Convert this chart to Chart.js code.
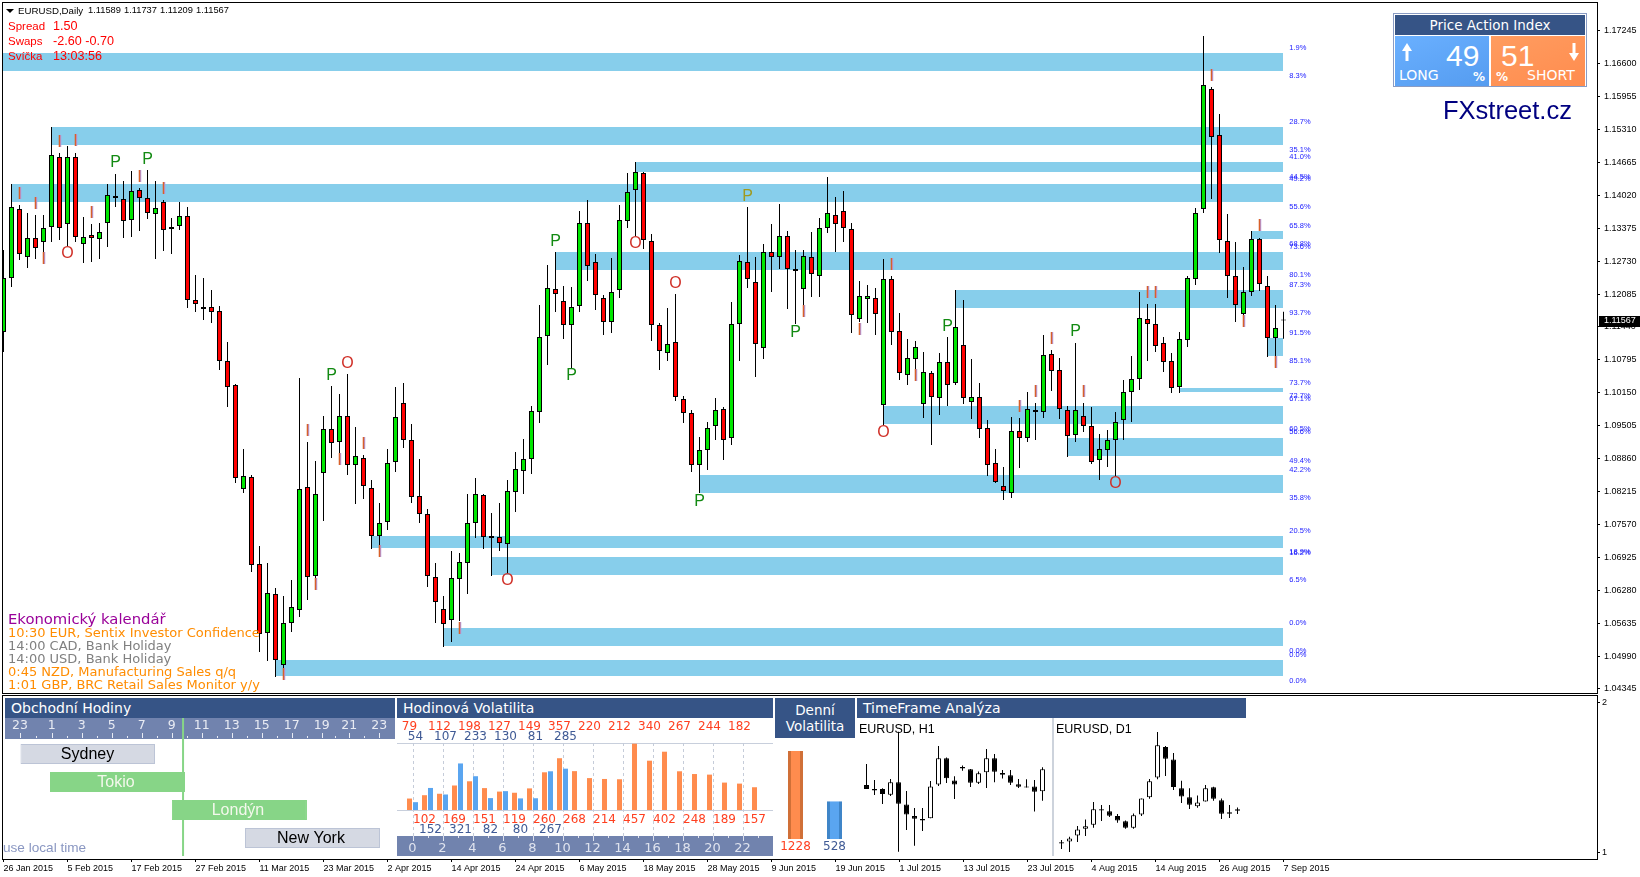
<!DOCTYPE html>
<html>
<head>
<meta charset="utf-8">
<title>EURUSD Daily</title>
<script src="https://cdn.jsdelivr.net/npm/chart.js@4"></script>
<style>
  body { margin: 0; background: #fff; width: 1640px; height: 877px; overflow: hidden; position: relative; }
  canvas { position: absolute; }
  .t { position: absolute; white-space: nowrap; line-height: 1; font-family: "Liberation Sans", sans-serif; }
  .v { font-family: "DejaVu Sans", sans-serif; }
  .box { position: absolute; }
  .head { position: absolute; background: #365486; color: #fff; font: 14px/20px "DejaVu Sans", sans-serif; height: 20px; top: 698px; padding-left: 6px; box-sizing: border-box; }
  .red { color: #f00; font-size: 11.5px; z-index: 5; }
  .redv { color: #f00; font-size: 12.6px; z-index: 5; left: 53px; }
  .ev { font-size: 13px; z-index: 5; left: 8px; }
</style>
</head>
<body>

<div class="box" style="left:2px;top:2px;width:1594px;height:690px;border:1px solid #000"></div>
<div class="box" style="left:2px;top:695px;width:1594px;height:163px;border:1px solid #000"></div>
<canvas id="lowerChart" width="1640" height="182" style="left:0;top:695px"></canvas>
<canvas id="mainChart" width="1640" height="694" style="left:0;top:0"></canvas>

<!-- top left info -->
<div class="t" style="left:6px;top:9px;width:0;height:0;border-left:4px solid transparent;border-right:4px solid transparent;border-top:4px solid #000;z-index:5"></div>
<div class="t" style="left:18px;top:6px;font-size:9.7px;z-index:5">EURUSD,Daily</div>
<div class="t" style="left:88px;top:6px;font-size:9.3px;z-index:5">1.11589</div>
<div class="t" style="left:124px;top:6px;font-size:9.3px;z-index:5">1.11737</div>
<div class="t" style="left:160px;top:6px;font-size:9.3px;z-index:5">1.11209</div>
<div class="t" style="left:196px;top:6px;font-size:9.3px;z-index:5">1.11567</div>
<div class="t red" style="left:8px;top:21px">Spread</div><div class="t redv" style="top:20px">1.50</div>
<div class="t red" style="left:8px;top:36px">Swaps</div><div class="t redv" style="top:35px">-2.60 -0.70</div>
<div class="t red" style="left:8px;top:51px">Svíčka</div><div class="t redv" style="top:50px">13:03:56</div>

<!-- calendar -->
<div class="t v" style="left:8px;top:612px;font-size:14.8px;color:#990099;z-index:5">Ekonomický kalendář</div>
<div class="t v ev" style="top:626px;color:#ff8c00">10:30 EUR, Sentix Investor Confidence</div>
<div class="t v ev" style="top:639px;color:#808080">14:00 CAD, Bank Holiday</div>
<div class="t v ev" style="top:652px;color:#808080">14:00 USD, Bank Holiday</div>
<div class="t v ev" style="top:665px;color:#ff8c00">0:45 NZD, Manufacturing Sales q/q</div>
<div class="t v ev" style="top:678px;color:#ff8c00">1:01 GBP, BRC Retail Sales Monitor y/y</div>

<!-- price action index -->
<div class="box" style="left:1393px;top:13px;width:192px;height:72px;border:1px solid #8a9cc4;z-index:4;background:#fff"></div>
<div class="box" style="left:1395px;top:15px;width:190px;height:20px;background:#365486;z-index:4"></div>
<div class="t v" style="left:1395px;top:19px;width:190px;text-align:center;color:#fff;font-size:13.5px;z-index:5">Price Action Index</div>
<div class="box" style="left:1395px;top:36px;width:94px;height:50px;background:linear-gradient(160deg,#6ab0ff,#559cf0);z-index:4"></div>
<div class="box" style="left:1491px;top:36px;width:94px;height:50px;background:linear-gradient(160deg,#ff9c60,#ff8c4e);z-index:4"></div>
<div class="t" style="left:1446px;top:41px;font-size:30px;color:#fff;z-index:5">49</div>
<div class="t" style="left:1501px;top:41px;font-size:30px;color:#fff;z-index:5">51</div>
<div class="t v" style="left:1399px;top:68px;font-size:14px;color:#fff;z-index:5">LONG</div>
<div class="t v" style="left:1527px;top:68px;font-size:14px;color:#fff;z-index:5">SHORT</div>
<div class="t v" style="left:1473px;top:71px;font-size:12px;font-weight:bold;color:#fff;z-index:5">%</div>
<div class="t v" style="left:1496px;top:71px;font-size:12px;font-weight:bold;color:#fff;z-index:5">%</div>
<svg style="position:absolute;left:1402px;top:43px;z-index:5" width="10" height="18"><path d="M5 0 L10 8 L6.5 8 L6.5 18 L3.5 18 L3.5 8 L0 8 Z" fill="#fff"/></svg>
<svg style="position:absolute;left:1569px;top:43px;z-index:5" width="10" height="18"><path d="M5 18 L10 10 L6.5 10 L6.5 0 L3.5 0 L3.5 10 L0 10 Z" fill="#fff"/></svg>
<div class="t" style="left:1443px;top:98px;font-size:25.5px;color:#000080;z-index:5">FXstreet.cz</div>

<!-- lower panels -->
<div class="head" style="left:5px;width:390px">Obchodní Hodiny</div>
<div class="box" style="left:5px;top:718px;width:390px;height:21px;background:#7183ae"></div>
<canvas id="sessionChart" width="390" height="138" style="left:5px;top:718px"></canvas>
<div class="t" style="left:3px;top:841px;font-size:13.6px;color:#8a97c2">use local time</div>

<div class="head" style="left:397px;width:376px">Hodinová Volatilita</div>
<div class="box" style="left:397px;top:743px;width:376px;height:1px;background:#c8cfdc"></div>
<div class="box" style="left:397px;top:810px;width:376px;height:1px;background:#c8cfdc"></div>
<div class="box" style="left:397px;top:836px;width:376px;height:20px;background:#7183ae"></div>
<canvas id="hourChart" width="376" height="136" style="left:397px;top:720px"></canvas>

<div class="head" style="left:775px;width:80px;height:40px;padding:4px 0 0;text-align:center;font-size:13.5px;line-height:16px">Denní<br>Volatilita</div>
<canvas id="dayChart" width="78" height="114" style="left:776px;top:745px"></canvas>

<div class="head" style="left:857px;width:389px">TimeFrame Analýza</div>
<div class="t" style="left:859px;top:723px;font-size:12.5px">EURUSD, H1</div>
<div class="t" style="left:1056px;top:723px;font-size:12.5px">EURUSD, D1</div>
<div class="box" style="left:1052px;top:718px;width:2px;height:138px;background:#cdd3dc"></div>

<script>
// Daily candles
const openPrices = [1.11342,1.12400,1.13753,1.12812,1.13184,1.13106,1.13400,1.14772,1.13459,1.14772,1.13067,1.13243,1.13165,1.13478,1.14008,1.13949,1.13537,1.14125,1.13968,1.13655,1.13890,1.13400,1.13419,1.13615,1.11969,1.11832,1.11832,1.11753,1.10773,1.10303,1.08265,1.08500,1.06795,1.05442,1.06207,1.04815,1.05638,1.05893,1.08304,1.06559,1.08578,1.09441,1.09186,1.09695,1.08735,1.08872,1.08284,1.07343,1.07618,1.08794,1.09950,1.09225,1.08127,1.07775,1.06540,1.05913,1.05697,1.06501,1.06814,1.07598,1.08147,1.07344,1.07324,1.07187,1.08206,1.08617,1.08853,1.09774,1.11263,1.12185,1.11949,1.11479,1.11851,1.13478,1.12714,1.12008,1.11538,1.12165,1.13517,1.14125,1.14458,1.13125,1.11479,1.10930,1.11146,1.10029,1.09754,1.08735,1.09029,1.09499,1.09833,1.09264,1.11499,1.12714,1.12322,1.11028,1.12910,1.12812,1.13223,1.12577,1.12185,1.12812,1.12439,1.13380,1.13635,1.13713,1.13361,1.11597,1.11989,1.12008,1.09911,1.12381,1.11361,1.10499,1.10813,1.09931,1.10538,1.10048,1.10754,1.10342,1.11087,1.09970,1.10068,1.09460,1.08774,1.08323,1.08186,1.09401,1.09264,1.09813,1.09774,1.10911,1.10597,1.09813,1.09323,1.09695,1.09499,1.08833,1.09029,1.09225,1.09617,1.10166,1.10421,1.11597,1.11499,1.11126,1.10773,1.10264,1.11185,1.12381,1.13753,1.16105,1.15203,1.13125,1.12439,1.11695,1.12126,1.13165,1.12243,1.11224,1.11589];
const highPrices = [1.12949,1.14243,1.13831,1.13674,1.13635,1.13635,1.15360,1.14850,1.14987,1.14850,1.13596,1.13459,1.13478,1.14243,1.14439,1.14301,1.14497,1.14164,1.14517,1.14301,1.13929,1.13576,1.13890,1.13792,1.12459,1.12400,1.12165,1.11851,1.11146,1.10323,1.09049,1.08539,1.07147,1.06814,1.06324,1.06167,1.06481,1.10440,1.09186,1.08813,1.09695,1.10283,1.10127,1.10519,1.09480,1.08931,1.08441,1.07990,1.09049,1.10264,1.10342,1.09539,1.08853,1.07873,1.06814,1.06167,1.07049,1.07010,1.08167,1.08480,1.08167,1.07794,1.07990,1.08441,1.08990,1.09245,1.09891,1.11871,1.12655,1.12910,1.12243,1.12224,1.13713,1.13929,1.12871,1.12067,1.12792,1.13831,1.14458,1.14674,1.14478,1.13263,1.11518,1.11812,1.12087,1.10087,1.09813,1.09284,1.09578,1.10048,1.09872,1.11930,1.12851,1.13792,1.12812,1.13067,1.13459,1.13851,1.13321,1.12949,1.12949,1.13302,1.13576,1.14380,1.13988,1.14105,1.13478,1.12341,1.12263,1.12204,1.12773,1.12439,1.11714,1.11205,1.11165,1.10950,1.10577,1.10930,1.11244,1.12165,1.11969,1.10813,1.10342,1.09617,1.09049,1.08696,1.09676,1.09656,1.10166,1.09950,1.11283,1.10989,1.10832,1.09891,1.11126,1.09950,1.09872,1.09343,1.09421,1.09774,1.10401,1.10871,1.12126,1.11891,1.11891,1.11244,1.10930,1.11342,1.12439,1.13772,1.17143,1.16144,1.15615,1.13655,1.13106,1.12616,1.13321,1.13184,1.12439,1.11871,1.11737];
const lowPrices = [1.10950,1.12224,1.12753,1.12596,1.12773,1.12910,1.13106,1.13145,1.13027,1.13106,1.12694,1.12714,1.12773,1.13008,1.13792,1.13184,1.13204,1.13321,1.13557,1.12773,1.12929,1.12871,1.13341,1.11812,1.11734,1.11577,1.11518,1.10597,1.09872,1.08382,1.08186,1.06638,1.05070,1.04893,1.04580,1.04756,1.05462,1.05756,1.06089,1.06520,1.07637,1.08872,1.08970,1.08539,1.07971,1.08069,1.07089,1.07147,1.07461,1.08598,1.09068,1.07990,1.07598,1.06344,1.05638,1.05168,1.05266,1.05677,1.06207,1.07304,1.07089,1.06559,1.07049,1.06618,1.07814,1.08167,1.08559,1.09558,1.10695,1.11734,1.11205,1.10636,1.11734,1.12341,1.11773,1.11283,1.11322,1.12008,1.13380,1.13223,1.12969,1.11165,1.10597,1.10773,1.09989,1.09558,1.08598,1.08186,1.08637,1.09225,1.08833,1.09127,1.10773,1.12204,1.10460,1.10813,1.12126,1.12577,1.11793,1.11499,1.11871,1.12028,1.12028,1.13282,1.12910,1.13106,1.11322,1.11538,1.11518,1.11283,1.09519,1.11087,1.10401,1.10303,1.10617,1.09656,1.09127,1.09715,1.09891,1.10303,1.09931,1.09637,1.09264,1.08519,1.08382,1.08049,1.08088,1.08676,1.09186,1.09225,1.09656,1.10185,1.09637,1.08892,1.09186,1.09382,1.08755,1.08441,1.08696,1.08519,1.09225,1.09578,1.10205,1.10773,1.10950,1.10558,1.10146,1.10146,1.11048,1.12263,1.13674,1.13949,1.12890,1.12008,1.11538,1.11675,1.12047,1.12145,1.10852,1.10871,1.11209];
const closePrices = [1.12400,1.13792,1.12871,1.13184,1.12988,1.13380,1.14811,1.13380,1.14772,1.13204,1.13204,1.13184,1.13302,1.14027,1.13968,1.13517,1.14105,1.13968,1.13674,1.13772,1.13341,1.13360,1.13615,1.11969,1.11891,1.11792,1.11734,1.10773,1.10264,1.08480,1.08519,1.06775,1.05423,1.06226,1.04913,1.05638,1.05952,1.08265,1.06540,1.08167,1.09441,1.09166,1.09695,1.08735,1.08911,1.08323,1.07343,1.07598,1.08774,1.09676,1.09225,1.08108,1.07775,1.06559,1.06050,1.05619,1.06520,1.06834,1.07598,1.08167,1.07324,1.07304,1.07206,1.08225,1.08657,1.08853,1.09793,1.11244,1.12204,1.12087,1.11479,1.11832,1.13478,1.12635,1.12067,1.11538,1.12126,1.13537,1.14086,1.14478,1.13145,1.11479,1.10969,1.11107,1.10068,1.09754,1.08735,1.09029,1.09460,1.09813,1.09225,1.11499,1.12733,1.12381,1.11107,1.12910,1.12812,1.13223,1.12577,1.12537,1.12831,1.12479,1.13380,1.13674,1.13459,1.13380,1.11675,1.12047,1.12047,1.11695,1.12381,1.11342,1.10538,1.10832,1.11048,1.10558,1.10068,1.10754,1.10303,1.11440,1.10048,1.10068,1.09441,1.08735,1.08402,1.08225,1.09401,1.09264,1.09833,1.09774,1.10891,1.10577,1.09833,1.09303,1.09813,1.09499,1.08794,1.09049,1.09225,1.09578,1.10166,1.10421,1.11616,1.11499,1.11067,1.10754,1.10244,1.11205,1.12400,1.13674,1.16183,1.15164,1.13145,1.12439,1.11871,1.12126,1.13165,1.12283,1.11224,1.11420,1.11567];

const priceTicks = [1.17245,1.16600,1.15955,1.15310,1.14665,1.14020,1.13375,1.12730,1.12085,1.11440,1.10795,1.10150,1.09505,1.08860,1.08215,1.07570,1.06925,1.06280,1.05635,1.04990,1.04345];
const dateLabels = ['26 Jan 2015','5 Feb 2015','17 Feb 2015','27 Feb 2015','11 Mar 2015','23 Mar 2015','2 Apr 2015','14 Apr 2015','24 Apr 2015','6 May 2015','18 May 2015','28 May 2015','9 Jun 2015','19 Jun 2015','1 Jul 2015','13 Jul 2015','23 Jul 2015','4 Aug 2015','14 Aug 2015','26 Aug 2015','7 Sep 2015'];
const lastPrice = 1.11567;

// Supply / demand zones
const zoneStart = [0,6,79,1,69,156,119,158,147,110,133,87,46,61,55,34];
const zoneHigh = [1.16810,1.15360,1.14674,1.14243,1.12910,1.13321,1.12165,1.11224,1.10244,1.09891,1.09264,1.08539,1.07343,1.06932,1.05540,1.04913];
const zoneLow = [1.16457,1.15007,1.14478,1.13890,1.12557,1.13165,1.11812,1.10871,1.10166,1.09539,1.08911,1.08186,1.07108,1.06579,1.05187,1.04599];
const zoneEnd = 159.94;

// P / O / I pattern marks
const markIndex = [2,4,5,7,8,9,11,14,17,18,20,35,38,41,43,42,45,39,47,57,63,69,71,79,84,93,99,100,87,111,107,110,114,118,127,129,131,134,135,139,143,144,151,157,155,159];
const markPrice = [1.14027,1.13831,1.12753,1.15046,1.12871,1.15066,1.13655,1.14654,1.14360,1.14713,1.14125,1.04599,1.09382,1.10479,1.10715,1.08813,1.09127,1.06363,1.07010,1.05501,1.06461,1.13106,1.10479,1.13067,1.12283,1.13988,1.11322,1.11714,1.08010,1.12635,1.11361,1.09362,1.10460,1.11440,1.09852,1.10146,1.11185,1.11342,1.10146,1.08363,1.12087,1.12087,1.16340,1.13400,1.11518,1.10715];
const markText = ['I','I','I','I','O','I','I','P','I','P','I','I','I','P','O','I','I','I','I','I','O','P','P','O','O','P','P','I','P','I','I','O','I','P','I','I','I','P','I','O','I','I','I','I','I','I'];

// Percent labels right of the zones
const pctPrice = [1.16908,1.16359,1.15458,1.14909,1.14772,1.14380,1.14341,1.13792,1.13419,1.13067,1.13008,1.12459,1.12263,1.11714,1.11322,1.10773,1.10342,1.10087,1.10029,1.09441,1.09382,1.08813,1.08637,1.08088,1.07441,1.07030,1.07010,1.06481,1.05638,1.05089,1.05011,1.04501];
const pctText = ['1.9%','8.3%','28.7%','35.1%','41.0%','44.5%','49.2%','55.6%','65.8%','68.8%','73.6%','80.1%','87.3%','93.7%','91.5%','85.1%','73.7%','72.7%','67.1%','60.5%','56.6%','49.4%','42.2%','35.8%','20.5%','18.9%','16.2%','6.5%','0.0%','0.0%','0.0%','0.0%'];

// Small H1 and D1 candles in the indicator window
const h1Open = [1.451,1.425,1.425,1.387,1.469,1.322,1.245,1.225,1.229,1.454,1.629,1.482,1.571,1.556,1.467,1.536,1.629,1.531,1.516,1.456,1.442,1.442,1.409];
const h1High = [1.591,1.485,1.429,1.491,1.807,1.411,1.298,1.298,1.478,1.711,1.634,1.509,1.582,1.558,1.542,1.691,1.658,1.551,1.551,1.491,1.489,1.485,1.569];
const h1Low = [1.425,1.385,1.325,1.378,1.007,1.151,1.047,1.145,1.229,1.445,1.465,1.358,1.547,1.438,1.458,1.431,1.469,1.494,1.451,1.431,1.434,1.274,1.347];
const h1Close = [1.425,1.414,1.391,1.469,1.327,1.254,1.227,1.214,1.442,1.629,1.496,1.454,1.562,1.467,1.529,1.629,1.540,1.520,1.467,1.440,1.434,1.407,1.556];
const d1Open = [1.069,1.074,1.114,1.160,1.187,1.289,1.276,1.245,1.209,1.167,1.254,1.369,1.502,1.705,1.622,1.429,1.369,1.309,1.342,1.436,1.349,1.269,1.289];
const d1High = [1.085,1.107,1.178,1.222,1.338,1.318,1.318,1.258,1.214,1.262,1.362,1.491,1.805,1.711,1.665,1.480,1.429,1.382,1.451,1.440,1.362,1.318,1.302];
const d1Low = [1.025,1.005,1.071,1.111,1.167,1.211,1.238,1.200,1.160,1.160,1.245,1.360,1.489,1.511,1.418,1.331,1.291,1.300,1.342,1.347,1.225,1.231,1.258];
const d1Close = [1.062,1.094,1.154,1.176,1.289,1.282,1.247,1.214,1.167,1.249,1.362,1.476,1.716,1.627,1.438,1.374,1.320,1.334,1.429,1.360,1.260,1.260,1.280];

// Trading sessions, in hours from the first label
const sessionNames = ['Sydney','Tokio','Londýn','New York'];
const sessionStart = [0,2,10.13,15];
const sessionEnd = [9,11,19.13,24];
const hourNames = ['23','1','3','5','7','9','11','13','15','17','19','21','23'];
const hourTickPos = [0,2.11,4.11,6.11,8.11,10.11,12.11,14.11,16.11,18.11,20.11,21.95,23.95];
const nowOffset = 10.87;

// Hourly and daily volatility
const hourLabels = ['0','1','2','3','4','5','6','7','8','9','10','11','12','13','14','15','16','17','18','19','20','21','22','23'];
const hourOrange = [79,102,112,169,198,151,127,119,149,260,357,268,220,214,212,457,340,402,267,248,244,189,182,157];
const hourBlue = [54,152,107,321,233,82,130,80,81,267,285,null,null,null,null,null,null,null,null,null,null,null,null,null];
const dayValues = [1228,528];

const ORANGE_TXT = '#ff3f1f', BLUE_TXT = '#3f5a95';
const ZONE_BLUE = '#87ceeb';
const AXIS_FONT = { family: 'Liberation Sans', size: 9 };

Chart.defaults.animation = false;
Chart.defaults.responsive = false;
Chart.defaults.plugins.legend.display = false;
Chart.defaults.plugins.tooltip.enabled = false;

// wick + body, both floating bars on a linear x scale
const candleSets = (start, o, h, l, c, up, down) => {
    const xs = o.map((_, i) => start + i);
    return [
        {
            data: xs.map((x, i) => ({ x, y: [l[i], h[i]] })),
            backgroundColor: '#000', barThickness: 1, grouped: false, order: 2, inflateAmount: 0
        },
        {
            data: xs.map((x, i) => ({ x, y: [o[i], c[i]] })),
            backgroundColor: o.map((v, i) => c[i] >= v ? up : down),
            borderColor: '#000', borderWidth: 1, borderSkipped: false,
            barThickness: 5, grouped: false, order: 1, inflateAmount: 0
        }
    ];
};

const xRange = { type: 'linear', min: -0.0625, max: 199.1875, offset: false };

const zoneSets = zoneStart.map((s, i) => ({
    type: 'line',
    data: [{ x: s === 0 ? -0.0625 : s, y: zoneHigh[i] }, { x: zoneEnd, y: zoneHigh[i] }],
    borderWidth: 0, pointRadius: 0, backgroundColor: ZONE_BLUE,
    fill: { value: zoneLow[i] }, order: 3
}));

const mainTexts = {
    id: 'mainTexts',
    afterDatasetsDraw(chart) {
        const { ctx, scales: { x, y } } = chart;
        ctx.save();
        ctx.textBaseline = 'middle';
        ctx.textAlign = 'center';
        ctx.font = '16px "Liberation Sans"';
        markText.forEach((m, i) => {
            const px = x.getPixelForValue(markIndex[i]), py = y.getPixelForValue(markPrice[i]);
            if (m === 'I') {
                // colour fringe of the glyph in the original
                ctx.fillStyle = '#b49ae0';
                ctx.fillText(m, px + 1, py);
                ctx.fillStyle = '#d8602a';
            } else {
                ctx.fillStyle = m === 'P' ? (markIndex[i] === 93 ? '#a09a20' : '#128a12') : '#d03028';
            }
            ctx.fillText(m, px, py);
        });
        ctx.textAlign = 'left';
        ctx.font = '7.5px "Liberation Sans"';
        ctx.fillStyle = '#1a1aff';
        pctText.forEach((t, i) => ctx.fillText(t, x.getPixelForValue(160.73), y.getPixelForValue(pctPrice[i])));
        // current price box on the axis
        const py = y.getPixelForValue(lastPrice);
        ctx.fillStyle = '#000';
        ctx.fillRect(1599, Math.round(py) - 5, 41, 11);
        ctx.fillStyle = '#fff';
        ctx.font = AXIS_FONT.size + 'px "Liberation Sans"';
        ctx.fillText(lastPrice.toFixed(5), 1604, py + 0.5);
        ctx.restore();
    }
};

new Chart(document.getElementById('mainChart'), {
    type: 'bar',
    data: { datasets: [...zoneSets, ...candleSets(0, openPrices, highPrices, lowPrices, closePrices, '#00e600', '#ff0000')] },
    options: {
        layout: { padding: { left: 3, top: 3, right: 0, bottom: 1 } },
        scales: {
            x: { ...xRange, display: false },
            y: {
                position: 'right', min: 1.042662, max: 1.177902,
                border: { display: false },
                grid: { drawOnChartArea: false, tickLength: 3, tickColor: '#000' },
                afterBuildTicks: axis => { axis.ticks = priceTicks.map(value => ({ value })); },
                afterFit: axis => { axis.width = 43; axis.paddingTop = 0; axis.paddingBottom = 0; },
                ticks: { padding: 4, color: '#000', font: AXIS_FONT, autoSkip: false, callback: v => v.toFixed(5) }
            }
        }
    },
    plugins: [mainTexts]
});

new Chart(document.getElementById('lowerChart'), {
    type: 'bar',
    data: {
        datasets: [
            ...candleSets(107.875, h1Open, h1High, h1Low, h1Close, '#fff', '#000'),
            ...candleSets(132.25, d1Open, d1High, d1Low, d1Close, '#fff', '#000')
        ]
    },
    options: {
        layout: { padding: { left: 3, top: 1, right: 0, bottom: 0 } },
        scales: {
            x: {
                ...xRange,
                position: 'bottom',
                border: { display: false },
                grid: { drawOnChartArea: false, tickLength: 3, tickColor: '#000', offset: false },
                afterBuildTicks: axis => { axis.ticks = dateLabels.map((_, k) => ({ value: k * 8 })); },
                afterFit: axis => { axis.height = 18; axis.paddingLeft = 0; axis.paddingRight = 0; },
                ticks: {
                    align: 'start', padding: 1, color: '#000', font: AXIS_FONT, autoSkip: false, maxRotation: 0,
                    callback: (v, i) => dateLabels[i]
                }
            },
            y: {
                position: 'right', min: 0.958, max: 2.0447,
                border: { display: false },
                grid: { drawOnChartArea: false, tickLength: 3, tickColor: '#000' },
                afterBuildTicks: axis => { axis.ticks = [{ value: 1 }, { value: 2 }]; },
                afterFit: axis => { axis.width = 43; axis.paddingTop = 0; axis.paddingBottom = 0; },
                ticks: { padding: 2, color: '#000', font: AXIS_FONT, callback: v => String(v) }
            }
        }
    }
});

// Sessions
const sessionGreen = '#87d587', sessionGrey = '#d5d9e3';
const sessionDecor = {
    id: 'sessionDecor',
    beforeDatasetsDraw(chart) {
        const { ctx, scales: { x } } = chart;
        ctx.save();
        ctx.strokeStyle = '#e8ebf3';
        hourTickPos.forEach((k, i) => {
            const px = Math.round(x.getPixelForValue(k)) + 0.5;
            ctx.beginPath();
            ctx.moveTo(px, 15);
            ctx.lineTo(px, 20);
            if (i < hourTickPos.length - 1) {
                const mid = Math.round(x.getPixelForValue((k + hourTickPos[i + 1]) / 2)) + 0.5;
                ctx.moveTo(mid, 18);
                ctx.lineTo(mid, 20);
            }
            ctx.stroke();
        });
        ctx.fillStyle = sessionGreen;
        ctx.fillRect(x.getPixelForValue(nowOffset) - 1, 0, 2, chart.height);
        ctx.restore();
    },
    afterDatasetsDraw(chart) {
        const { ctx, scales: { x } } = chart;
        ctx.save();
        ctx.font = '16px "Liberation Sans"';
        ctx.textAlign = 'center';
        ctx.textBaseline = 'middle';
        chart.getDatasetMeta(0).data.forEach((bar, i) => {
            ctx.fillStyle = (i === 1 || i === 2) ? '#f4f8ec' : '#000';
            ctx.fillText(sessionNames[i], x.getPixelForValue((sessionStart[i] + sessionEnd[i]) / 2) - (i === 0 ? 0 : 1.5), bar.y + 0.5);
        });
        ctx.restore();
    }
};

new Chart(document.getElementById('sessionChart'), {
    type: 'bar',
    data: {
        labels: sessionNames,
        datasets: [{
            data: sessionStart.map((s, i) => [s, sessionEnd[i]]),
            backgroundColor: [sessionGrey, sessionGreen, sessionGreen, sessionGrey],
            borderColor: ['#bcc4d6', sessionGreen, sessionGreen, '#bcc4d6'],
            borderWidth: 1, borderSkipped: false, barThickness: 20, inflateAmount: 0
        }]
    },
    options: {
        indexAxis: 'y',
        layout: { padding: { bottom: 4 } },
        scales: {
            x: {
                type: 'linear', position: 'top', min: -1, max: 25,
                border: { display: false },
                grid: { drawOnChartArea: false, drawTicks: false },
                afterBuildTicks: axis => { axis.ticks = hourTickPos.map(value => ({ value })); },
                afterFit: axis => { axis.height = 22; axis.paddingLeft = 0; axis.paddingRight = 0; },
                ticks: {
                    autoSkip: false, maxRotation: 0, padding: 7, color: '#e8ebf3',
                    font: { family: 'DejaVu Sans', size: 12.5 },
                    callback: (v, i) => hourNames[i]
                }
            },
            y: { display: false }
        }
    },
    plugins: [sessionDecor]
});

// Hourly volatility
const hourDecor = {
    id: 'hourDecor',
    beforeDatasetsDraw(chart) {
        const { ctx, scales: { x } } = chart;
        ctx.save();
        hourLabels.forEach((_, h) => {
            const px = Math.round(x.getPixelForValue(h)) + 0.5;
            if (h % 2 === 0) {
                ctx.strokeStyle = '#c5ccd9';
                ctx.setLineDash([3, 3]);
                ctx.beginPath();
                ctx.moveTo(px, 23);
                ctx.lineTo(px, 116);
                ctx.stroke();
            }
            ctx.setLineDash([]);
            ctx.strokeStyle = '#dfe3ee';
            ctx.beginPath();
            ctx.moveTo(px, 116);
            ctx.lineTo(px, h % 2 === 0 ? 121 : 118);
            ctx.stroke();
        });
        ctx.restore();
    },
    afterDatasetsDraw(chart) {
        const { ctx } = chart;
        ctx.save();
        ctx.font = '12px "DejaVu Sans"';
        ctx.textAlign = 'center';
        ctx.textBaseline = 'middle';
        [[hourOrange, ORANGE_TXT, 7, 99.5], [hourBlue, BLUE_TXT, 17, 109.5]].forEach(([vals, color, upY, lowY], d) => {
            ctx.fillStyle = color;
            const bars = chart.getDatasetMeta(d).data;
            vals.forEach((v, h) => {
                if (v === null) return;
                ctx.fillText(v, bars[h].x, h % 2 === 0 ? upY : lowY);
            });
        });
        ctx.restore();
    }
};

new Chart(document.getElementById('hourChart'), {
    type: 'bar',
    data: {
        labels: hourLabels,
        datasets: [
            { data: hourOrange, backgroundColor: '#ff8c4e', barThickness: 6, maxBarThickness: 5, inflateAmount: 0 },
            { data: hourBlue, backgroundColor: '#5aa5f0', barThickness: 6, maxBarThickness: 5, inflateAmount: 0 }
        ]
    },
    options: {
        layout: { padding: { left: 8, right: 8, top: 23, bottom: 0 } },
        scales: {
            x: {
                border: { display: false },
                grid: { display: false, drawTicks: false },
                afterFit: axis => { axis.height = 46; axis.paddingLeft = 0; axis.paddingRight = 0; },
                ticks: {
                    autoSkip: false, maxRotation: 0, padding: 31, color: '#dfe3ee',
                    font: { family: 'DejaVu Sans', size: 13 },
                    callback: (v, i) => i % 2 === 0 ? hourLabels[i] : ''
                }
            },
            y: { display: false, min: 0, max: 462 }
        }
    },
    plugins: [hourDecor]
});

// Daily volatility
const dayLabels = {
    id: 'dayLabels',
    afterDatasetsDraw(chart) {
        const { ctx, chartArea } = chart;
        ctx.save();
        ctx.font = '12px "DejaVu Sans"';
        ctx.textAlign = 'center';
        ctx.textBaseline = 'middle';
        chart.getDatasetMeta(0).data.forEach((bar, i) => {
            ctx.fillStyle = i === 0 ? ORANGE_TXT : BLUE_TXT;
            ctx.fillText(dayValues[i], bar.x, chartArea.bottom + 8);
        });
        ctx.restore();
    }
};

new Chart(document.getElementById('dayChart'), {
    type: 'bar',
    data: {
        labels: ['buy', 'sell'],
        datasets: [{
            data: dayValues,
            backgroundColor: ['#ff8c4e', '#5aa5f0'],
            borderColor: ['#d07038', '#3f85c8'],
            borderWidth: { left: 3, right: 3 }, borderSkipped: false,
            barThickness: 15, inflateAmount: 0
        }]
    },
    options: {
        layout: { padding: { bottom: 20 } },
        scales: { x: { display: false }, y: { display: false, min: 0, max: 1311 } }
    },
    plugins: [dayLabels]
});
</script>
</body>
</html>
